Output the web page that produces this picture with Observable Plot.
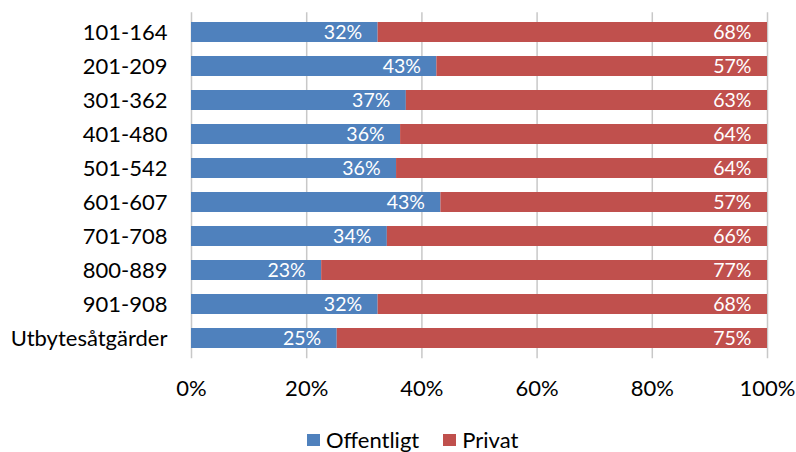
<!DOCTYPE html>
<html>
<head>
<meta charset="utf-8">
<script src="https://cdn.jsdelivr.net/npm/d3@7"></script>
<script src="https://cdn.jsdelivr.net/npm/@observablehq/plot@0.6"></script>
<style>
  html, body { margin: 0; padding: 0; background: #fff; }
  #wrap { position: relative; width: 796px; height: 452px; overflow: hidden; font-family: Lato, "Open Sans", sans-serif; }
  #legend { position: absolute; left: 307px; top: 430px; display: flex; align-items: center; font-size: 22px; color: #000; line-height: 20px; }
  .sw { display: inline-block; width: 13px; height: 12px; margin-right: 6px; }
  .item { display: flex; align-items: center; margin-right: 24px; }
</style>
</head>
<body>
<div id="wrap"><div id="chart"></div><div id="legend"></div></div>
<script>
const categories = ["101-164","201-209","301-362","401-480","501-542","601-607","701-708","800-889","901-908","Utbytesåtgärder"];
const offentligt = [32.4, 42.6, 37.3, 36.3, 35.6, 43.3, 34.0, 22.6, 32.4, 25.3];
const privat     = [67.6, 57.4, 62.7, 63.7, 64.4, 56.7, 66.0, 77.4, 67.6, 74.7];
const seriesNames = ["Offentligt", "Privat"];
const seriesColors = ["#4f81bd", "#c0504d"];
const xTicks = [0, 20, 40, 60, 80, 100];

const rows = [];
categories.forEach((c, i) => {
  rows.push({cat: c, series: seriesNames[0], value: offentligt[i]});
  rows.push({cat: c, series: seriesNames[1], value: privat[i]});
});

const chart = Plot.plot({
  width: 796,
  height: 420,
  marginLeft: 191,
  marginRight: 29,
  marginTop: 12.25,
  marginBottom: 62.75,
  style: {fontFamily: "Lato, 'Open Sans', sans-serif", fontSize: "22px", color: "#000", background: "#fff"},
  x: {domain: [0, 100], ticks: xTicks, tickFormat: d => d + "%", label: null, tickSize: 0, tickPadding: 23},
  y: {domain: categories, label: null, tickSize: 0, tickPadding: 24, padding: 0.42, paddingOuter: 0.21, align: 0.5},
  color: {domain: seriesNames, range: seriesColors},
  marks: [
    Plot.gridX(xTicks, {stroke: "#c8c8c8", strokeOpacity: 1, strokeWidth: 1.5, insetBottom: -1}),
    Plot.barX(rows, Plot.stackX({x: "value", y: "cat", fill: "series", z: "series", order: seriesNames})),
    Plot.text(rows, Plot.stackX2({x: "value", y: "cat", z: "series", order: seriesNames,
      text: d => Math.round(d.value) + "%", textAnchor: "end", dx: -16, fill: "white", fontSize: 19.5}))
  ]
});
document.getElementById("chart").appendChild(chart);

const legend = document.getElementById("legend");
seriesNames.forEach((s, i) => {
  const it = document.createElement("div");
  it.className = "item";
  const sw = document.createElement("span");
  sw.className = "sw";
  sw.style.background = seriesColors[i];
  it.appendChild(sw);
  it.appendChild(document.createTextNode(s));
  legend.appendChild(it);
});
</script>
</body>
</html>
